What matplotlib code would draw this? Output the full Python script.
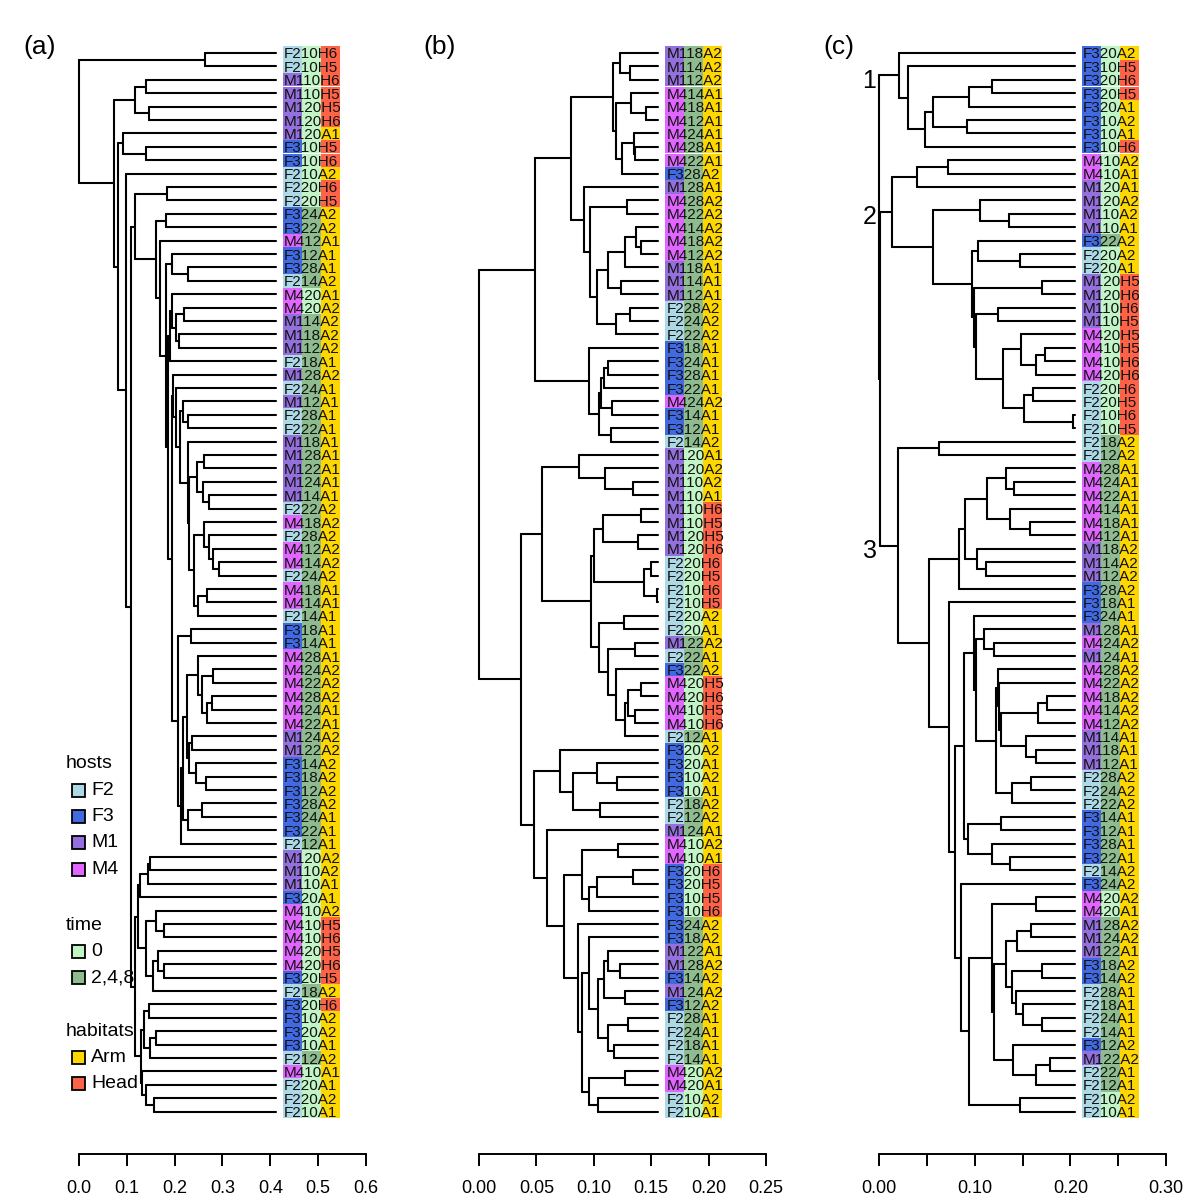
import matplotlib
matplotlib.use("Agg")
import matplotlib.pyplot as plt
from matplotlib.collections import LineCollection
from matplotlib.patches import Rectangle

plt.rcParams['font.family'] = ['Liberation Sans', 'DejaVu Sans']

# dendrograms: "(child,child)height", height = distance from the root
tree_a = """((F210H6,F210H5)0.263,(((M110H6,M110H5)0.141,(M120H5,M120H6)0.147)0.117,
((M120A1,(F310H5,F310H6)0.140)0.093,(F210A2,(((F220H6,F220H5)0.184,((F324A2,F322A2)0.182,
(M412A1,((F312A1,(F328A1,F214A2)0.227)0.194,(((M420A1,((M420A2,M114A2)0.220,(M118A2,M112A2)0.210)0.203)0.1936,F218A1)0.191,
((M128A2,(F224A1,((M112A1,(F228A1,F222A1)0.2285)0.218,(M118A1,(((M128A1,M122A1)0.262,(M124A1,(M114A1,F222A2)0.2725)0.260)0.246,
((M418A2,(F228A2,(M412A2,(M414A2,F224A2)0.292)0.281)0.271)0.262,((M418A1,M414A1)0.267,F214A1)0.248)0.240)0.231)0.2285)0.211)0.203)0.196,
((F318A1,F314A1)0.234,((((M428A1,((M424A2,M422A2)0.281,((M428A2,M424A1)0.278,M422A1)0.2677)0.2565)0.248,
((M124A2,M122A2)0.236,(F314A2,(F318A2,F312A2)0.2655)0.245)0.2306)0.2255,((F328A2,F324A1)0.258,F322A1)0.2285)0.2166,F212A1)0.213)0.206)0.1945)0.187)0.182)0.170)0.162)0.117,
(((((M120A2,M110A2)0.148,M110A1)0.145,F320A1)0.128,((M410A2,(M410H5,M410H6)0.177)0.161,((M420H5,(M420H6,F320H5)0.177)0.166,F218A2)0.154)0.141)0.1225,
(((F320H6,F310A2)0.147,((F320A2,F310A1)0.162,F212A2)0.149)0.136,(M410A1,(F220A1,(F220A2,F210A1)0.157)0.140)0.132)0.129)0.117)0.108)0.099)0.082)0.073)0"""

tree_b = """(((((M118A2,(M114A2,M112A2)0.1317)0.1224,((M414A1,(M418A1,M412A1)0.1457)0.1326,((M424A1,(M428A1,M422A1)0.1355)0.1346,F328A2)0.1244)0.1195)0.1171,
(M128A1,((M428A2,M422A2)0.1288,((((M414A2,(M418A2,M412A2)0.1413)0.1364,M118A1)0.1276,(M114A1,M112A1)0.1238)0.1128,((F228A2,F224A2)0.1317,F222A2)0.1195)0.1029)0.0970)0.0918)0.0801,
(F318A1,((((F324A1,F328A1)0.1128,F322A1)0.1087,(M424A2,F314A1)0.1160)0.1064,(F312A1,F214A2)0.1151)0.1049)0.0962)0.0490,
(((M120A1,(M120A2,(M110A2,M110A1)0.1340)0.1099)0.0868,((((M110H6,M110H5)0.1407,(M120H5,M120H6)0.1384)0.1084,((F220H6,F220H5)0.1501,(F210H6,F210H5)0.1553)0.1434)0.1005,
((F220A2,F220A1)0.1262,((M122A2,F222A1)0.1355,(F322A2,(((M420H5,M420H6)0.1413,(M410H5,M410H6)0.1355)0.1297,F212A1)0.1276)0.1195)0.1128)0.1049)0.0976)0.0548,
((F320A2,((F320A1,(F310A2,F310A1)0.1203)0.1029,(F218A2,F212A2)0.1058)0.0822)0.0708,(M124A1,(((M410A2,M410A1)0.1209,(((F320H6,F320H5)0.1340,F310H5)0.1029,F310H6)0.0962)0.0895,
(F324A2,((F318A2,(((M122A1,(M128A2,F314A2)0.1224)0.1128,(M124A2,F312A2)0.1273)0.1087,((F228A1,F224A1)0.1302,(F218A1,F214A1)0.1174)0.1122)0.1034)0.0956,
((M420A2,M420A1)0.1276,(F210A2,F210A1)0.1034)0.0962)0.0895)0.0859)0.0743)0.0589)0.0481)0.0364)0"""

tree_c = """((F320A2,(F310H5,((((F320H6,F320H5)0.1179,F320A1)0.0937,(F310A2,F310A1)0.0920)0.0560,F310H6)0.0479)0.0308)0.0210,
((((M410A2,M410A1)0.0724,M120A1)0.0395,((M120A2,(M110A2,M110A1)0.1364)0.1056,((F322A2,(F220A2,F220A1)0.1476)0.1032,((M120H5,M120H6)0.1703,
((M110H6,M110H5)0.1242,((M420H5,((M410H5,M410H6)0.1731,M420H6)0.1637)0.1487,((F220H6,F220H5)0.1609,(F210H6,F210H5)0.2029)0.1511)0.1301)0.1014)0.0990)0.0969)0.0560)0.0140,
((F218A2,F212A2)0.0630,(((((M428A1,(M424A1,M422A1)0.1410)0.1329,(M414A1,(M418A1,M412A1)0.1574)0.1371)0.1130,(M118A2,(M114A2,M112A2)0.1119)0.1025)0.0899,F328A2)0.0839,
(F318A1,(((F324A1,((M128A1,(M424A2,M124A1)0.1207)0.1102,((M428A2,(M422A2,(((M418A2,M414A2)0.1759,M412A2)0.1661,(M114A1,(M118A1,M112A1)0.1637)0.1539)0.1277)0.1259)0.1242,
((F228A2,F224A2)0.1592,F222A2)0.1389)0.1224)0.1014)0.0997,((F314A1,F312A1)0.1277,(F328A1,(F322A1,F214A2)0.1371)0.1182)0.0934)0.0892,
(F324A2,(((M420A2,M420A1)0.1637,((((M128A2,M124A2)0.1592,M122A1)0.1441,((F318A2,F314A2)0.1707,(F228A1,(F218A1,(F224A1,F214A1)0.1707)0.1504)0.1434)0.1389)0.1329,
(F312A2,((M122A2,F222A1)0.1791,F212A1)0.1637)0.1399)0.1207)0.1182,(F210A2,F210A1)0.1469)0.0944)0.0857)0.0797)0.0735)0.0525)0.0199)0.0014)0"""

tip_a, tip_b, tip_c = 0.411, 0.156, 0.2046

ticks_a = [0.0, 0.1, 0.2, 0.3, 0.4, 0.5, 0.6]
ticks_b = [0.00, 0.05, 0.10, 0.15, 0.20, 0.25]
ticks_c = [0.00, 0.05, 0.10, 0.15, 0.20, 0.25, 0.30]
ticklabels_a = ['0.0', '0.1', '0.2', '0.3', '0.4', '0.5', '0.6']
ticklabels_b = ['0.00', '0.05', '0.10', '0.15', '0.20', '0.25']
ticklabels_c = ['0.00', '', '0.10', '', '0.20', '', '0.30']

host_names = ['F2', 'F3', 'M1', 'M4']
host_colors = ['#ADD8E6', '#4169E1', '#9370DB', '#E066FF']
time_names = ['0', '2,4,8']
time_colors = ['#C1F5C6', '#8FBC8F']
habitat_names = ['Arm', 'Head']
habitat_colors = ['#FFD700', '#FF6347']
cluster_names = ['1', '2', '3']


def parse(s):
    s = ''.join(s.split())
    pos = 0

    def node():
        nonlocal pos
        if s[pos] == '(':
            pos += 1
            kids = [node()]
            while s[pos] == ',':
                pos += 1
                kids.append(node())
            pos += 1
            start = pos
            while pos < len(s) and s[pos] not in ',)':
                pos += 1
            return (float(s[start:pos]), kids)
        start = pos
        while s[pos] not in ',)':
            pos += 1
        return s[start:pos]
    return node()


def layout(tree, tip):
    leaves, segs = [], []

    def walk(t):
        if isinstance(t, str):
            leaves.append(t)
            return tip, len(leaves) - 1
        h, kids = t
        pts = [walk(k) for k in kids]
        ys = [p[1] for p in pts]
        for x, y in pts:
            segs.append([(h, y), (x, y)])
        segs.append([(h, min(ys)), (h, max(ys))])
        return h, (min(ys) + max(ys)) / 2
    walk(tree)
    return leaves, segs


def node_y(t, order):
    if isinstance(t, str):
        return order.index(t)
    ys = [node_y(k, order) for k in t[1]]
    return (min(ys) + max(ys)) / 2


W = H = 1200
fig = plt.figure(figsize=(12, 12), dpi=100)

row0, row_h = 53, 13.4          # pixel row of first leaf, row spacing
top_px, axis_px = 30, 1154
panels = [
    ('(a)', tree_a, tip_a, 79, 478.3, ticks_a, ticklabels_a),
    ('(b)', tree_b, tip_b, 479, 1148, ticks_b, ticklabels_b),
    ('(c)', tree_c, tip_c, 879, 956.7, ticks_c, ticklabels_c),
]

for name, tstr, tip, x0, scale, ticks, tlabels in panels:
    left, right = x0 - 65, x0 + 300
    ax = fig.add_axes([left / W, 1 - axis_px / H, (right - left) / W, (axis_px - top_px) / H])
    ax.set_xlim((left - x0) / scale, (right - x0) / scale)
    ax.set_ylim((axis_px - row0) / row_h, (top_px - row0) / row_h)

    tree = parse(tstr)
    leaves, segs = layout(tree, tip)
    ax.add_collection(LineCollection(segs, colors='black', linewidths=1.5, capstyle='round'))

    # coloured leaf labels
    gap, seg = 7 / scale, 19 / scale
    lx = tip + gap
    for i, lab in enumerate(leaves):
        hc = host_colors[host_names.index(lab[:2])]
        tc = time_colors[0] if lab[3] == '0' else time_colors[1]
        bc = habitat_colors[0] if lab[4] == 'A' else habitat_colors[1]
        for k, c in enumerate([hc, tc, bc]):
            ax.add_patch(Rectangle((lx + k * seg, i - 0.5), seg, 1, facecolor=c,
                                   edgecolor='none', zorder=1))
        ax.text(lx + 1.5 / scale, i, lab, fontsize=11, ha='left', va='center_baseline',
                color='#111111', zorder=2)

    # scale axis
    for sp in ['left', 'right', 'top']:
        ax.spines[sp].set_visible(False)
    ax.spines['bottom'].set_bounds(ticks[0], ticks[-1])
    ax.spines['bottom'].set_linewidth(1.4)
    ax.set_yticks([])
    ax.set_xticks(ticks)
    ax.set_xticklabels(tlabels, fontsize=13)
    ax.tick_params(axis='x', direction='out', length=8.5, width=1.4, pad=10)
    ax.patch.set_visible(False)

    fig.text((x0 - 56) / W, 1 - 47 / H, name, fontsize=19, ha='left', va='center')

    if name == '(c)':
        c2, c3 = tree[1][1][1]
        for lab, sub in zip(cluster_names, [tree[1][0], c2, c3]):
            y = node_y(sub, leaves)
            ax.text(-2.5 / scale, y + 0.4, lab, fontsize=18, ha='right', va='center')

# legend of panel (a)
def legend_block(title, names, colors, y_title):
    fig.text(66 / W, 1 - y_title / H, title, fontsize=14, ha='left', va='center')
    for k, (n, c) in enumerate(zip(names, colors)):
        yc = y_title + 26.3 * (k + 1)
        fig.add_artist(Rectangle((72 / W, 1 - (yc + 6.5) / H), 13 / W, 13 / H,
                                 facecolor=c, edgecolor='black', linewidth=1.3,
                                 transform=fig.transFigure))
        fig.text(91 / W, 1 - yc / H, n, fontsize=14, ha='left', va='center')

legend_block('hosts', host_names, host_colors, 764)
legend_block('time', time_names, time_colors, 925)
legend_block('habitats', habitat_names, habitat_colors, 1031)

fig.savefig('out.png', dpi=100)
